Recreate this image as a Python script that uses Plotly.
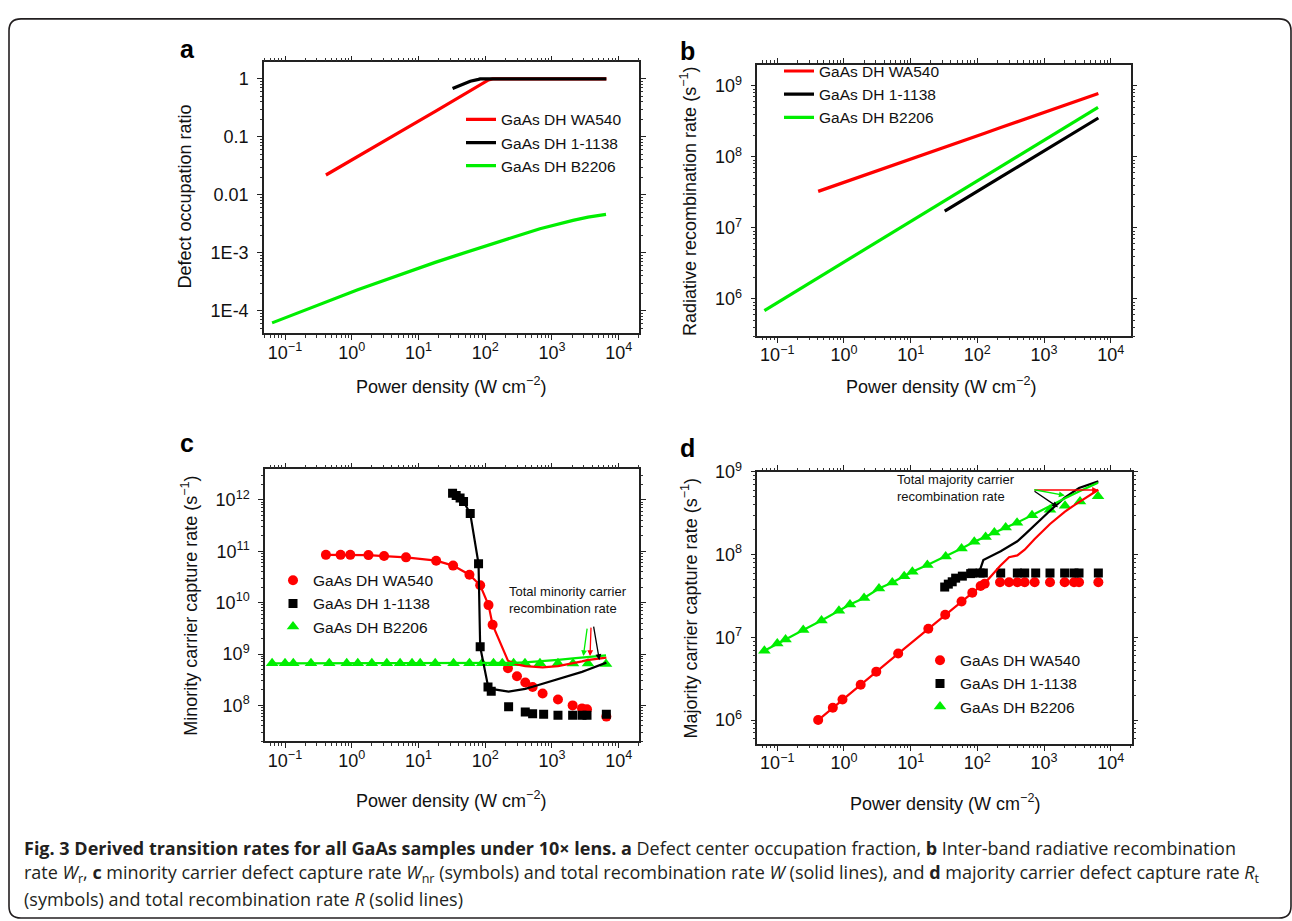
import math
import plotly.graph_objects as go

W, H = 1292, 921


def px(x):
    return x / W


def py(y):
    return 1 - y / H


# ---------------- DATA ----------------
# power densities (W cm^-2) of the measurement points
x_wa540 = [0.41, 0.68, 0.95, 1.78, 3.05, 6.5, 18.4, 33, 58, 84, 112, 129, 219, 299,
           398, 513, 724, 1230, 2040, 2820, 3350, 6530]
x_1138 = [32.4, 36.7, 42, 47.3, 59.6, 79.4, 84, 110, 123, 224, 398, 513, 750, 1230,
          2040, 2820, 3350, 6530]
x_b2206 = [0.064, 0.1, 0.133, 0.245, 0.46, 0.84, 1.23, 2.0, 3.35, 5.3, 8.0, 10.6, 17.8,
           33.5, 58, 90, 133, 180, 266, 394, 661, 1230, 2065, 3467, 6457]

# panel a: defect occupation ratio
a_wa540 = [0.022, 0.031, 0.038, 0.059, 0.086, 0.14, 0.28, 0.42, 0.62, 0.80, 0.96, 1.0,
           1.0, 1.0, 1.0, 1.0, 1.0, 1.0, 1.0, 1.0, 1.0, 1.0]
a_1138 = [0.68, 0.72, 0.78, 0.83, 0.91, 0.98, 1.0, 1.0, 1.0, 1.0, 1.0, 1.0, 1.0, 1.0,
          1.0, 1.0, 1.0, 1.0]
a_b2206 = [6.2e-5, 7.6e-5, 8.6e-5, 1.12e-4, 1.48e-4, 1.97e-4, 2.31e-4, 2.83e-4, 3.5e-4,
           4.24e-4, 5.0e-4, 5.6e-4, 6.85e-4, 8.7e-4, 1.07e-3, 1.27e-3, 1.47e-3, 1.63e-3,
           1.88e-3, 2.16e-3, 2.6e-3, 3.16e-3, 3.63e-3, 4.12e-3, 4.62e-3]

# panel b: radiative recombination rate (s^-1)
b_wa540 = [3.27e7, 3.87e7, 4.32e7, 5.3e7, 6.3e7, 8.1e7, 1.14e8, 1.38e8, 1.66e8, 1.88e8,
           2.06e8, 2.16e8, 2.57e8, 2.85e8, 3.13e8, 3.4e8, 3.8e8, 4.53e8, 5.35e8, 5.95e8,
           6.3e8, 7.8e8]
b_1138 = [1.72e7, 1.85e7, 2.0e7, 2.14e7, 2.44e7, 2.87e7, 2.96e7, 3.45e7, 3.68e7, 5.2e7,
          7.2e7, 8.3e7, 1.03e8, 1.36e8, 1.82e8, 2.19e8, 2.41e8, 3.53e8]
b_b2206 = [6.85e5, 8.85e5, 1.04e6, 1.48e6, 2.12e6, 2.99e6, 3.72e6, 4.92e6, 6.6e6, 8.6e6,
           1.09e7, 1.28e7, 1.72e7, 2.46e7, 3.37e7, 4.34e7, 5.42e7, 6.45e7, 8.05e7,
           1.01e8, 1.36e8, 1.94e8, 2.6e8, 3.5e8, 5.0e8]

# panel c: minority carrier capture rate (symbols) and total rate W (lines)
c_wa540_sym = [8.5e10, 8.5e10, 8.5e10, 8.4e10, 8.05e10, 7.6e10, 6.55e10, 5.25e10, 3.5e10,
               2.17e10, 8.95e9, 3.7e9, 5.3e8, 3.7e8, 2.8e8, 2.28e8, 1.7e8, 1.3e8, 1.0e8,
               8.75e7, 8.4e7, 6.05e7]
c_wa540_line = [8.5e10, 8.5e10, 8.5e10, 8.4e10, 8.05e10, 7.6e10, 6.55e10, 5.25e10, 3.5e10,
                2.17e10, 8.95e9, 3.7e9, 7.4e8, 6.3e8, 5.8e8, 5.6e8, 5.5e8, 5.8e8, 6.5e8,
                7.2e8, 7.6e8, 8.5e8]
c_1138_sym = [1.34e12, 1.21e12, 1.08e12, 9.3e11, 5.4e11, 5.7e10, 1.38e9, 2.28e8, 1.88e8,
              9.4e7, 7.45e7, 6.9e7, 6.7e7, 6.4e7, 6.4e7, 6.4e7, 6.4e7, 6.7e7]
c_1138_line = [1.34e12, 1.21e12, 1.08e12, 9.3e11, 5.4e11, 5.7e10, 1.38e9, 2.4e8, 2.1e8,
               1.85e8, 2.1e8, 2.3e8, 2.65e8, 3.2e8, 3.9e8, 4.5e8, 4.9e8, 6.8e8]
c_b2206_sym = [6.6e8, 6.6e8, 6.6e8, 6.6e8, 6.6e8, 6.6e8, 6.6e8, 6.6e8, 6.6e8, 6.6e8, 6.6e8,
               6.6e8, 6.6e8, 6.6e8, 6.6e8, 6.6e8, 6.6e8, 6.6e8, 6.6e8, 6.6e8, 6.6e8, 6.6e8,
               6.5e8, 6.5e8, 6.4e8]
c_b2206_line = [6.6e8, 6.6e8, 6.6e8, 6.6e8, 6.6e8, 6.6e8, 6.6e8, 6.6e8, 6.6e8, 6.6e8,
                6.6e8, 6.6e8, 6.6e8, 6.6e8, 6.6e8, 6.6e8, 6.6e8, 6.6e8, 6.7e8, 6.9e8,
                7.2e8, 7.7e8, 8.2e8, 8.8e8, 9.4e8]

# panel d: majority carrier capture rate (symbols) and total rate R (lines)
d_wa540_sym = [1.0e6, 1.41e6, 1.77e6, 2.67e6, 3.85e6, 6.37e6, 1.27e7, 1.88e7, 2.71e7,
               3.47e7, 4.17e7, 4.44e7, 4.65e7, 4.65e7, 4.65e7, 4.65e7, 4.65e7, 4.65e7,
               4.65e7, 4.65e7, 4.65e7, 4.65e7]
d_wa540_line = [1.0e6, 1.41e6, 1.77e6, 2.67e6, 3.85e6, 6.37e6, 1.27e7, 1.88e7, 2.71e7,
                3.47e7, 4.17e7, 4.5e7, 7.3e7, 9.3e7, 9.8e7, 1.15e8, 1.55e8, 2.35e8,
                3.3e8, 3.95e8, 4.3e8, 6.1e8]
d_1138_sym = [4.06e7, 4.4e7, 4.7e7, 5.2e7, 5.5e7, 5.9e7, 6.0e7, 6.0e7, 6.0e7, 6.0e7,
              6.0e7, 6.0e7, 6.0e7, 6.0e7, 6.0e7, 6.0e7, 6.0e7, 6.0e7]
d_1138_line = [4.06e7, 4.4e7, 4.7e7, 5.2e7, 5.5e7, 5.9e7, 6.0e7, 6.6e7, 8.6e7, 1.1e8,
               1.45e8, 1.75e8, 2.35e8, 3.4e8, 4.9e8, 5.8e8, 6.4e8, 7.7e8]
d_b2206_sym = [6.9e6, 8.4e6, 9.4e6, 1.23e7, 1.6e7, 2.1e7, 2.5e7, 3.0e7, 3.9e7, 4.6e7,
               5.5e7, 6.2e7, 7.5e7, 9.5e7, 1.19e8, 1.43e8, 1.64e8, 1.85e8, 2.13e8, 2.44e8,
               2.99e8, 3.5e8, 3.9e8, 4.4e8, 5.1e8]
d_b2206_line = [6.9e6, 8.4e6, 9.4e6, 1.23e7, 1.6e7, 2.1e7, 2.5e7, 3.0e7, 3.9e7, 4.6e7,
                5.5e7, 6.2e7, 7.5e7, 9.5e7, 1.19e8, 1.43e8, 1.64e8, 1.85e8, 2.13e8, 2.44e8,
                3.0e8, 3.9e8, 4.8e8, 5.9e8, 7.4e8]

names = ["GaAs DH WA540", "GaAs DH 1-1138", "GaAs DH B2206"]

x_tickvals = [0.1, 1, 10, 100, 1000, 10000]
x_ticktext = ["10<sup>−1</sup>", "10<sup>0</sup>", "10<sup>1</sup>", "10<sup>2</sup>",
              "10<sup>3</sup>", "10<sup>4</sup>"]
a_tickvals = [1e-4, 1e-3, 0.01, 0.1, 1]
a_ticktext = ["1E-4", "1E-3", "0.01", "0.1", "1"]
b_tickvals = [1e6, 1e7, 1e8, 1e9]
b_ticktext = ["10<sup>6</sup>", "10<sup>7</sup>", "10<sup>8</sup>", "10<sup>9</sup>"]
c_tickvals = [1e8, 1e9, 1e10, 1e11, 1e12]
c_ticktext = ["10<sup>8</sup>", "10<sup>9</sup>", "10<sup>10</sup>", "10<sup>11</sup>",
              "10<sup>12</sup>"]
d_tickvals = [1e6, 1e7, 1e8, 1e9]
d_ticktext = ["10<sup>6</sup>", "10<sup>7</sup>", "10<sup>8</sup>", "10<sup>9</sup>"]

RED, BLACK, GREEN = "#ff0000", "#000000", "#00ee00"
FONT = "Liberation Sans, Arial, Helvetica, sans-serif"
CAPFONT = "Open Sans, Noto Sans, sans-serif"


def minor_vals(lo, hi):
    vals = []
    for e in range(lo, hi + 1):
        for m in range(2, 10):
            vals.append(m * 10.0 ** e)
    return vals


fig = go.Figure()

# ---- panel a ----
for xs, ys, c, n in [(x_wa540, a_wa540, RED, names[0]), (x_1138, a_1138, BLACK, names[1]),
                     (x_b2206, a_b2206, GREEN, names[2])]:
    fig.add_trace(go.Scatter(x=xs, y=ys, mode="lines", line=dict(color=c, width=3.2),
                             name=n, xaxis="x", yaxis="y", legend="legend"))
# ---- panel b ----
for xs, ys, c, n in [(x_wa540, b_wa540, RED, names[0]), (x_1138, b_1138, BLACK, names[1]),
                     (x_b2206, b_b2206, GREEN, names[2])]:
    fig.add_trace(go.Scatter(x=xs, y=ys, mode="lines", line=dict(color=c, width=3.2),
                             name=n, xaxis="x2", yaxis="y2", legend="legend2"))

# ---- panel c ----
sym = {"circle": 10, "square": 9, "triangle-up": 11}
for xs, ys, c, n, s in [(x_wa540, c_wa540_sym, RED, names[0], "circle"),
                        (x_1138, c_1138_sym, BLACK, names[1], "square"),
                        (x_b2206, c_b2206_sym, GREEN, names[2], "triangle-up")]:
    fig.add_trace(go.Scatter(x=xs, y=ys, mode="markers",
                             marker=dict(color=c, symbol=s, size=sym[s], line=dict(width=0)),
                             name=n, xaxis="x3", yaxis="y3", legend="legend3"))
for xs, ys, c in [(x_wa540, c_wa540_line, RED), (x_1138, c_1138_line, BLACK),
                  (x_b2206, c_b2206_line, GREEN)]:
    fig.add_trace(go.Scatter(x=xs, y=ys, mode="lines", line=dict(color=c, width=2.2),
                             showlegend=False, xaxis="x3", yaxis="y3"))

# ---- panel d ----
for xs, ys, c, n, s in [(x_wa540, d_wa540_sym, RED, names[0], "circle"),
                        (x_1138, d_1138_sym, BLACK, names[1], "square"),
                        (x_b2206, d_b2206_sym, GREEN, names[2], "triangle-up")]:
    fig.add_trace(go.Scatter(x=xs, y=ys, mode="markers",
                             marker=dict(color=c, symbol=s, size=sym[s], line=dict(width=0)),
                             name=n, xaxis="x4", yaxis="y4", legend="legend4"))
for xs, ys, c in [(x_wa540, d_wa540_line, RED), (x_1138, d_1138_line, BLACK),
                  (x_b2206, d_b2206_line, GREEN)]:
    fig.add_trace(go.Scatter(x=xs, y=ys, mode="lines", line=dict(color=c, width=2.2),
                             showlegend=False, xaxis="x4", yaxis="y4"))


def axis(domain, rng, tickvals, ticktext, anchor, minor_lo, minor_hi, is_y=False):
    d = dict(type="log", domain=domain, range=rng, anchor=anchor,
             tickmode="array", tickvals=tickvals, ticktext=ticktext,
             showline=True, linecolor="#222", linewidth=1.5, mirror="allticks",
             ticks="outside", ticklen=5, tickwidth=1.2, tickcolor="#222",
             showgrid=False, zeroline=False,
             tickfont=dict(size=18, color="#111", family=FONT),
             minor=dict(ticks="outside", ticklen=2.5, tickwidth=1, tickcolor="#333",
                        tickmode="array", tickvals=minor_vals(minor_lo, minor_hi),
                        showgrid=False))
    d["ticklabelstandoff"] = 5 if is_y else -3
    return d


dom_a_x = [px(264), px(639)]
dom_a_y = [py(325.7), py(51)]
dom_b_x = [px(757.3), px(1130.7)]
dom_b_y = [py(328.3), py(53.3)]
dom_c_x = [px(265), px(639)]
dom_c_y = [py(739), py(463.3)]
dom_d_x = [px(757.3), px(1131.7)]
dom_d_y = [py(741.7), py(466)]

fig.update_layout(
    width=W, height=H, margin=dict(l=0, r=0, t=0, b=0),
    paper_bgcolor="white", plot_bgcolor="white",
    font=dict(family=FONT, color="#111"),
    xaxis=axis(dom_a_x, [-1.315, 4.304], x_tickvals, x_ticktext, "y", -2, 4),
    yaxis=axis(dom_a_y, [-4.39, 0.285], a_tickvals, a_ticktext, "x", -5, 0, True),
    xaxis2=axis(dom_b_x, [-1.30, 4.30], x_tickvals, x_ticktext, "y2", -2, 4),
    yaxis2=axis(dom_b_y, [5.477, 9.30], b_tickvals, b_ticktext, "x2", 5, 9, True),
    xaxis3=axis(dom_c_x, [-1.30, 4.304], x_tickvals, x_ticktext, "y3", -2, 4),
    yaxis3=axis(dom_c_y, [7.30, 12.595], c_tickvals, c_ticktext, "x3", 7, 12, True),
    xaxis4=axis(dom_d_x, [-1.30, 4.315], x_tickvals, x_ticktext, "y4", -2, 4),
    yaxis4=axis(dom_d_y, [5.71, 9.0005], d_tickvals, d_ticktext, "x4", 5, 8, True),
    showlegend=True,
)

leg_common = dict(bgcolor="rgba(0,0,0,0)", borderwidth=0, xanchor="left", yanchor="top",
                  font=dict(size=15.5, family=FONT, color="#111"), tracegroupgap=0)
fig.update_layout(
    legend=dict(x=px(461), y=py(92), **leg_common),
    legend2=dict(x=px(779), y=py(43), **leg_common),
    legend3=dict(x=px(273), y=py(559), **leg_common),
    legend4=dict(x=px(920), y=py(640), **leg_common),
)

ann = []
# panel letters
for t, x, y in [("a", 178, 37.3), ("b", 678, 39.6), ("c", 178, 436.3), ("d", 678, 441.3)]:
    ann.append(dict(text=f"<b>{t}</b>", x=px(x), y=py(y), xref="paper", yref="paper",
                    xanchor="left", yanchor="middle", showarrow=False,
                    font=dict(size=25, family=FONT, color="#000")))
# axis titles
xt = "Power density (W cm<sup>−2</sup>)"
for x, y in [(451.3, 378), (941, 378), (451.3, 798), (944.5, 801)]:
    ann.append(dict(text=xt, x=px(x), y=py(y), xref="paper", yref="paper",
                    xanchor="center", yanchor="middle", showarrow=False,
                    font=dict(size=18, family=FONT, color="#111")))
for t, x, y in [("Defect occupation ratio", 185, 187),
                ("Radiative recombination rate (s<sup>−1</sup>)", 689, 192.5),
                ("Minority carrier capture rate (s<sup>−1</sup>)", 190, 601.7),
                ("Majority carrier capture rate (s<sup>−1</sup>)", 689.3, 604)]:
    ann.append(dict(text=t, x=px(x), y=py(y), xref="paper", yref="paper", textangle=-90,
                    xanchor="center", yanchor="middle", showarrow=False,
                    font=dict(size=18, family=FONT, color="#111")))

# annotation texts inside panels c and d
ann.append(dict(text="Total minority carrier<br>recombination rate", x=px(506.7), y=py(596),
                xref="paper", yref="paper", xanchor="left", yanchor="middle", align="left",
                showarrow=False, font=dict(size=13, family=FONT, color="#111")))
ann.append(dict(text="Total majority carrier<br>recombination rate", x=px(895), y=py(482),
                xref="paper", yref="paper", xanchor="left", yanchor="middle", align="left",
                showarrow=False, font=dict(size=13, family=FONT, color="#111")))

# arrows panel c (head at data point, tail offset in px); log axes take log10 positions
for hx, hy, axp, ayp, c in [(2950, 9.1e8, 4, -29, GREEN), (3720, 9.1e8, 1, -30, RED),
                            (5130, 7.6e8, -6, -35, BLACK)]:
    ann.append(dict(x=math.log10(hx), y=math.log10(hy), xref="x3", yref="y3", ax=axp,
                    ay=ayp, showarrow=True, arrowhead=2, arrowsize=0.9,
                    arrowwidth=1.3, arrowcolor=c, text=""))
# arrows panel d
for hx, hy, axp, ayp, c in [(6457, 6.05e8, -65, 0, RED), (2047, 5.2e8, -32, -6, GREEN),
                            (1622, 3.75e8, -25, -17, BLACK)]:
    ann.append(dict(x=math.log10(hx), y=math.log10(hy), xref="x4", yref="y4", ax=axp,
                    ay=ayp, showarrow=True, arrowhead=2, arrowsize=0.9,
                    arrowwidth=1.3, arrowcolor=c, text=""))

# caption
cap = [
    "<b>Fig. 3 Derived transition rates for all GaAs samples under 10× lens. a</b> Defect "
    "center occupation fraction, <b>b</b> Inter-band radiative recombination",
    "rate <i>W</i><sub>r</sub>, <b>c</b> minority carrier defect capture rate "
    "<i>W</i><sub>nr</sub> (symbols) and total recombination rate <i>W</i> (solid lines), "
    "and <b>d</b> majority carrier defect capture rate <i>R</i><sub>t</sub>",
    "(symbols) and total recombination rate <i>R</i> (solid lines)",
]
for i, t in enumerate(cap):
    ann.append(dict(text=t, x=px(22), y=py(847 + 26 * i), xref="paper", yref="paper",
                    xanchor="left", yanchor="middle", showarrow=False,
                    font=dict(size=18, family=CAPFONT, color="#231f20")))

fig.update_layout(annotations=ann)

# rounded frame around the figure
L, R, T, B = px(9), px(1291), py(7), py(918)
rx, ry = 12 / W, 12 / H
path = (f"M {L + rx},{T} L {R - rx},{T} Q {R},{T} {R},{T - ry} L {R},{B + ry} "
        f"Q {R},{B} {R - rx},{B} L {L + rx},{B} Q {L},{B} {L},{B + ry} "
        f"L {L},{T - ry} Q {L},{T} {L + rx},{T} Z")
fig.add_shape(type="path", path=path, xref="paper", yref="paper",
              line=dict(color="#231f20", width=1.6))

fig.write_html("out.html")
